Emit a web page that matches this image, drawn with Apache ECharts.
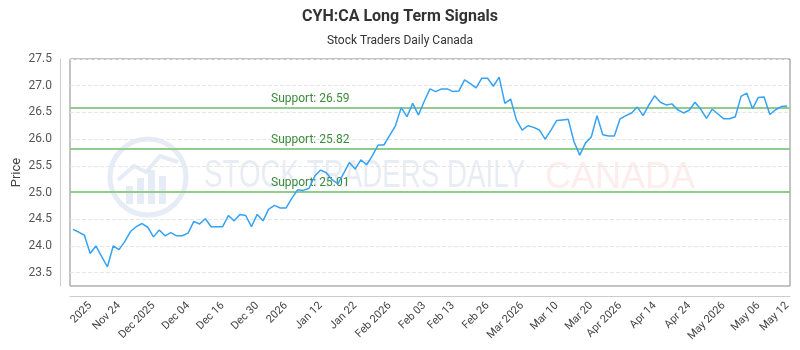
<!DOCTYPE html>
<html>
<head>
<meta charset="utf-8">
<script src="https://cdn.jsdelivr.net/npm/echarts@6/dist/echarts.min.js"></script>
<style>
  html, body { margin: 0; padding: 0; background: #fff; }
  #main { width: 800px; height: 350px; }
</style>
</head>
<body>
<div id="main"></div>
<script>
    // closing prices (one per trading day)
    let prices = [
        24.31, 24.26, 24.20, 23.86, 24.00, 23.80, 23.61, 24.00, 23.93, 24.08,
        24.27, 24.36, 24.42, 24.35, 24.17, 24.30, 24.19, 24.25, 24.19, 24.19,
        24.24, 24.46, 24.41, 24.51, 24.36, 24.36, 24.36, 24.57, 24.47, 24.59,
        24.57, 24.36, 24.59, 24.47, 24.69, 24.76, 24.71, 24.71, 24.89, 25.05,
        25.04, 25.08, 25.31, 25.42, 25.37, 25.24, 25.16, 25.36, 25.56, 25.44,
        25.61, 25.52, 25.69, 25.89, 25.89, 26.07, 26.25, 26.59, 26.42, 26.67,
        26.45, 26.71, 26.94, 26.89, 26.94, 26.94, 26.89, 26.90, 27.11, 27.04,
        26.96, 27.14, 27.14, 26.99, 27.16, 26.67, 26.75, 26.36, 26.17, 26.25,
        26.22, 26.17, 26.00, 26.17, 26.35, 26.36, 26.37, 25.95, 25.70, 25.93,
        26.04, 26.44, 26.08, 26.06, 26.06, 26.38, 26.44, 26.49, 26.60, 26.44,
        26.64, 26.81, 26.69, 26.64, 26.66, 26.55, 26.49, 26.54, 26.69, 26.56,
        26.39, 26.56, 26.47, 26.38, 26.38, 26.42, 26.80, 26.86, 26.57, 26.78,
        26.79, 26.46, 26.55, 26.61, 26.62
    ];

    // x axis labels and the day index they sit on
    let tickLabels = ['2025', 'Nov 24', 'Dec 2025', 'Dec 04', 'Dec 16', 'Dec 30', '2026', 'Jan 12',
        'Jan 22', 'Feb 2026', 'Feb 03', 'Feb 13', 'Feb 26', 'Mar 2026', 'Mar 10', 'Mar 20',
        'Apr 2026', 'Apr 14', 'Apr 24', 'May 2026', 'May 06', 'May 12'];
    let tickIndex = [3, 8, 14, 20, 26, 32, 37, 43, 49, 55, 61, 66, 72, 78, 84, 90, 95, 101, 107, 113, 119, 124];

    let supportLevels = [26.59, 25.82, 25.01];

    let categories = prices.map(function (p, i) {
        return 'd' + i;
    });
    let labelAt = {};
    tickIndex.forEach(function (idx, k) {
        labelAt[idx] = tickLabels[k];
    });

    let font = 'Roboto';
    let wmBlue = 'rgba(205,218,235,0.5)';
    let myChart = echarts.init(document.getElementById('main'));
    myChart.setOption({
        animation: false,
        textStyle: {fontFamily: font},
        title: {
            text: 'CYH:CA Long Term Signals',
            subtext: 'Stock Traders Daily Canada',
            left: 'center',
            top: 4,
            itemGap: 10,
            textStyle: {fontSize: 16, fontWeight: 'bold', color: '#333', fontFamily: font},
            subtextStyle: {fontSize: 12, color: '#333', fontFamily: font}
        },
        grid: {
            left: 70,
            right: 10,
            top: 59,
            bottom: 64,
            show: true,
            borderColor: '#888',
            borderWidth: 1,
            containLabel: false,
            outerBoundsMode: 'none'
        },
        // watermark
        graphic: [
            {
                type: 'circle',
                z: 0,
                shape: {cx: 148, cy: 177, r: 38},
                style: {fill: 'none', stroke: wmBlue, lineWidth: 5}
            },
            {
                type: 'group',
                z: 0,
                children: [
                    {type: 'rect', shape: {x: 126, y: 186, width: 7, height: 18}, style: {fill: wmBlue}},
                    {type: 'rect', shape: {x: 137, y: 178, width: 7, height: 26}, style: {fill: wmBlue}},
                    {type: 'rect', shape: {x: 148, y: 170, width: 7, height: 34}, style: {fill: wmBlue}},
                    {type: 'rect', shape: {x: 159, y: 176, width: 7, height: 28}, style: {fill: wmBlue}},
                    {
                        type: 'polyline',
                        shape: {points: [[118, 180], [134, 166], [146, 172], [160, 156], [178, 162]]},
                        style: {fill: 'none', stroke: wmBlue, lineWidth: 4}
                    }
                ]
            },
            {
                type: 'text',
                z: 0,
                x: 204,
                y: 158,
                scaleX: 0.73,
                style: {
                    text: 'STOCK TRADERS DAILY',
                    fontSize: 38,
                    fontFamily: 'Liberation Sans',
                    fill: 'rgba(205,215,230,0.45)'
                }
            },
            {
                type: 'text',
                z: 0,
                left: 545,
                top: 160,
                style: {
                    text: 'CANADA',
                    fontSize: 36,
                    fontFamily: 'Liberation Sans',
                    fill: 'rgba(250,195,195,0.3)'
                }
            }
        ],
        xAxis: {
            type: 'category',
            data: categories,
            boundaryGap: true,
            offset: 10,
            axisLine: {lineStyle: {color: '#ccc'}},
            axisTick: {show: false},
            splitLine: {show: false},
            axisLabel: {
                rotate: 45,
                fontSize: 11,
                color: '#444',
                margin: 8,
                interval: function (index) {
                    return labelAt[index] !== undefined;
                },
                formatter: function (value, index) {
                    return labelAt[index] || '';
                }
            }
        },
        yAxis: {
            type: 'value',
            min: 23.25,
            max: 27.5,
            interval: 0.25,
            offset: 10,
            name: 'Price',
            nameLocation: 'middle',
            nameGap: 37,
            nameMoveOverlap: false,
            nameTextStyle: {fontSize: 13, color: '#444'},
            axisLine: {show: true, lineStyle: {color: '#ccc'}},
            axisTick: {show: false},
            axisLabel: {
                fontSize: 12,
                color: '#555',
                formatter: function (v) {
                    return Math.abs(v * 2 - Math.round(v * 2)) < 1e-6 ? v.toFixed(1) : '';
                }
            },
            splitLine: {
                show: true,
                lineStyle: {color: ['rgba(0,0,0,0)', '#e6e6e6'], type: 'dashed', width: 1}
            }
        },
        series: [
            {
                type: 'line',
                name: 'Price',
                data: prices,
                symbol: 'none',
                z: 3,
                lineStyle: {color: '#35a2f4', width: 1.5},
                markLine: {
                    silent: true,
                    symbol: 'none',
                    z: 2,
                    lineStyle: {color: '#90cc8c', type: 'solid', width: 2},
                    label: {
                        position: 'insideStartTop',
                        distance: [201, 3],
                        formatter: 'Support: {c}',
                        color: '#3b8a3b',
                        fontSize: 12,
                        fontFamily: font
                    },
                    data: supportLevels.map(function (v) {
                        return {yAxis: v};
                    })
                }
            }
        ]
    });
</script>
</body>
</html>
